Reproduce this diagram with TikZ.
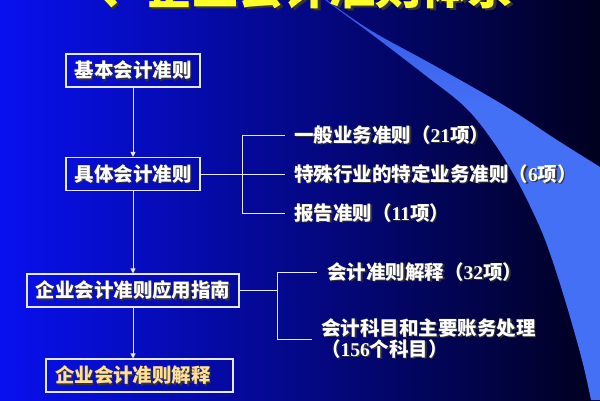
\documentclass[tikz,border=0pt]{standalone}
\usepackage{fontspec}
\newfontfamily\cjk{Noto Sans CJK SC}
\newfontfamily\numf{Liberation Serif}
\usetikzlibrary{arrows.meta}
\definecolor{bgA}{RGB}{8,16,240}
\definecolor{bgB}{RGB}{0,8,175}
\definecolor{bgC}{RGB}{0,0,30}
\definecolor{wedA}{RGB}{30,55,205}
\definecolor{wedB}{RGB}{68,112,245}
\definecolor{goldtxt}{RGB}{255,222,150}
\definecolor{lineC}{RGB}{228,232,248}
\definecolor{titleY}{RGB}{255,255,40}
\pgfdeclareverticalshading{wedgeshade}{100bp}{color(0bp)=(wedB); color(62bp)=(wedB); color(92bp)=(wedA); color(100bp)=(wedA)}
\newcommand\shd[2][1.3pt]{\leavevmode\rlap{\kern#1\raisebox{-#1}{\color{black!80}#2}}#2}
\newcommand\nm[1]{{\numf\bfseries #1}}
\begin{document}
\begin{tikzpicture}[x=1pt,y=-1pt,
  txtfont/.style={font=\cjk\bfseries\fontsize{19.5}{20}\selectfont},
  box/.style={txtfont, draw=lineC, line width=1.1pt, minimum height=33pt,
    inner xsep=8pt, inner ysep=0pt, text=white, text height=15.6pt, text depth=0.8pt},
  lblbase/.style={txtfont, anchor=west, inner sep=0pt, text=white},
  lbl/.style={lblbase, text height=15.6pt, text depth=0.8pt},
  conn/.style={draw=lineC, line width=1pt},
  arr/.style={conn, -{Triangle[width=5pt,length=5pt]}},
  titlestyle/.style={font=\cjk\bfseries\fontsize{46}{46}\selectfont, text=titleY,
    inner sep=0pt, text height=36.8pt, text depth=1.8pt}]
\useasboundingbox (0,0) rectangle (600,400);
\clip (0,0) rectangle (600,400);
% background
\shade[left color=bgA, middle color=bgB, right color=bgC] (0,0) rectangle (600,400);
% light swoosh
\shade[shading=wedgeshade]
  plot[smooth, tension=0.6] coordinates {(325,0) (370,33) (425,75) (465,107) (492,140) (514,175) (532,210) (547,245) (565,300) (582,360) (591,400)}
  -- (600,400) -- (600,167)
  -- plot[smooth, tension=0.6] coordinates {(600,167) (557,140) (505,106) (437,67) (370,30) (327,0)} -- cycle;
% title (cut off by the top edge)
\node[titlestyle] (title) at (284,-13.5) {\shd[2.5pt]{一、企业会计准则体系}};
% boxes
\node[box, minimum width=134pt] (b1) at (133,70.5) {\shd{基本会计准则}};
\node[box, minimum width=134pt] (b2) at (133,174) {\shd{具体会计准则}};
\node[box, minimum width=212pt] (b3) at (133,290.5) {\shd{企业会计准则应用指南}};
\node[box, minimum width=187pt, text=goldtxt, text width=169pt, align=left] (b4) at (139.5,375.5) {\shd{企业会计准则解释}};
% labels
\node[lbl] (t1) at (294,135) {\shd{一般业务准则（\nm{21}项）}};
\node[lbl] (t2) at (294,174) {\shd{特殊行业的特定业务准则（\nm{6}项）}};
\node[lbl] (t3) at (294,213) {\shd{报告准则（\nm{11}项）}};
\node[lbl] (t4) at (327,272) {\shd{会计准则解释（\nm{32}项）}};
\node[lblbase, align=left] (t5) at (321,339) {\shd{会计科目和主要账务处理}\\\shd{（\nm{156}个科目）}};
% arrows
\draw[arr] (b1) -- (b2);
\draw[arr] (b2) -- (b3);
\draw[arr] (b3.south) -- (b3.south |- b4.north);
% bracket 1
\coordinate (k1) at (242.7,174);
\draw[conn] (b2.east) -- ([xshift=-9pt]t2.west);
\draw[conn] ([xshift=-9pt]t1.west) -- (k1 |- t1.west) -- (k1 |- t3.west) -- ([xshift=-9pt]t3.west);
% bracket 2
\coordinate (k2) at (277.5,290.5);
\draw[conn] (b3.east) -- (k2);
\draw[conn] ([xshift=-10pt]t4.west) -- (k2 |- t4.west) -- (k2 |- t5.west) -- ([xshift=-9pt]t5.west);
\end{tikzpicture}
\end{document}
